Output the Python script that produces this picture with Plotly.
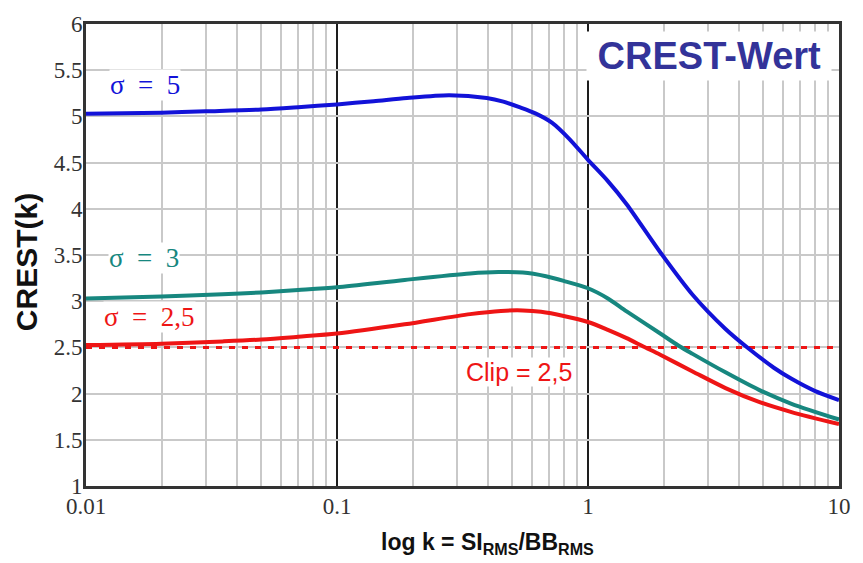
import plotly.graph_objects as go

# Crest factor curves CREST(k) for three sigma values
k_s5 = [0.01, 0.02, 0.03, 0.05, 0.07, 0.1, 0.14, 0.19, 0.28, 0.395, 0.46, 0.533,
        0.62, 0.72, 0.84, 1.0, 1.2, 1.425, 1.94, 2.61, 3.53, 4.4, 5.5, 6.47, 8.0, 10.0]
crest_s5 = [5.03, 5.04, 5.055, 5.075, 5.10, 5.13, 5.165, 5.20, 5.23, 5.20, 5.16, 5.10,
            5.03, 4.93, 4.76, 4.53, 4.30, 4.05, 3.53, 3.07, 2.70, 2.48, 2.28, 2.16, 2.03, 1.93]

k_s3 = [0.01, 0.02, 0.035, 0.05, 0.07, 0.1, 0.186, 0.339, 0.44, 0.55, 0.68, 0.8, 1.0,
        1.2, 1.425, 1.94, 2.29, 2.61, 3.53, 4.8, 6.47, 10.0]
crest_s3 = [3.03, 3.05, 3.075, 3.095, 3.12, 3.15, 3.23, 3.30, 3.315, 3.31, 3.27, 3.22, 3.14,
            3.03, 2.89, 2.65, 2.52, 2.43, 2.23, 2.04, 1.89, 1.72]

k_s25 = [0.01, 0.02, 0.035, 0.05, 0.07, 0.1, 0.186, 0.339, 0.45, 0.55, 0.65, 0.8, 1.0,
         1.2, 1.425, 1.66, 1.94, 2.61, 3.53, 4.8, 6.47, 10.0]
crest_s25 = [2.525, 2.54, 2.565, 2.585, 2.615, 2.65, 2.75, 2.86, 2.895, 2.90, 2.885, 2.84, 2.775,
             2.69, 2.60, 2.51, 2.42, 2.24, 2.06, 1.91, 1.80, 1.67]

clip_level = 2.5
k_range = [0.01, 10.0]

x_tickvals = [0.01, 0.1, 1, 10]
x_ticktext = ["0.01", "0.1", "1", "10"]
y_tickvals = [1, 1.5, 2, 2.5, 3, 3.5, 4, 4.5, 5, 5.5, 6]
y_ticktext = ["1", "1.5", "2", "2.5", "3", "3.5", "4", "4.5", "5", "5.5", "6"]

BLUE = "#1212d8"
TEAL = "#17877f"
RED = "#ee1515"
SERIF = "Times New Roman, Liberation Serif, DejaVu Serif, Times, serif"
SANS = "Arial, Liberation Sans, sans-serif"
EN = "\u2002"

fig = go.Figure()

fig.add_trace(go.Scatter(x=k_range, y=[clip_level, clip_level], mode="lines",
                         line=dict(color=RED, width=3, dash="6px,7px"),
                         showlegend=False, hoverinfo="skip"))
for kx, cy, col in [(k_s25, crest_s25, RED), (k_s3, crest_s3, TEAL), (k_s5, crest_s5, BLUE)]:
    fig.add_trace(go.Scatter(x=kx, y=cy, mode="lines",
                             line=dict(color=col, width=4, shape="spline", smoothing=0.8),
                             showlegend=False))

fig.update_xaxes(type="log", range=[-2, 1], tickvals=x_tickvals, ticktext=x_ticktext,
                 showgrid=True, gridcolor="#1e1e1e", gridwidth=1.5,
                 minor=dict(dtick="D1", showgrid=True, gridcolor="#c9c9c9", gridwidth=1.5,
                            ticks=""),
                 showline=True, mirror=True, linecolor="#333333", linewidth=3,
                 ticks="", ticklabelstandoff=-3,
                 tickfont=dict(family=SERIF, size=23, color="#333333"), zeroline=False)
fig.update_yaxes(range=[1, 6], tickvals=y_tickvals, ticktext=y_ticktext,
                 showgrid=True, gridcolor="#c9c9c9", gridwidth=1.5,
                 showline=True, mirror=True, linecolor="#333333", linewidth=3,
                 ticks="", ticklabelstandoff=-4,
                 tickfont=dict(family=SERIF, size=23, color="#333333"), zeroline=False)

ann = [
    dict(x=-1.763, y=5.34, text=f"σ{EN}={EN}5", font=dict(family=SERIF, size=27, color=BLUE)),
    dict(x=-1.767, y=3.47, text=f"σ{EN}={EN}3", font=dict(family=SERIF, size=27, color=TEAL)),
    dict(x=-1.747, y=2.83, text=f"σ{EN}={EN}2,5", font=dict(family=SERIF, size=27, color=RED)),
    dict(x=-0.273, y=2.23, text="Clip = 2,5", font=dict(family=SANS, size=25, color=RED)),
]
for a in ann:
    fig.add_annotation(xref="x", yref="y", showarrow=False, bgcolor="white",
                       xanchor="center", yanchor="middle", borderpad=0, **a)

fig.add_annotation(xref="paper", yref="paper", x=0.828, y=0.93, showarrow=False,
                   text="<b>\u2009CREST-Wert\u2009</b>", bgcolor="white", borderpad=3,
                   font=dict(family=SANS, size=38, color="#333399"),
                   xanchor="center", yanchor="middle")
fig.add_annotation(xref="paper", yref="paper", x=-0.0787, y=0.484, showarrow=False,
                   text="<b>CREST(k)</b>", textangle=-90,
                   font=dict(family=SANS, size=30, color="#111111"),
                   xanchor="center", yanchor="middle")
fig.add_annotation(xref="paper", yref="paper", x=0.533, y=-0.125, showarrow=False,
                   text="<b>log k = SI<sub>RMS</sub>/BB<sub>RMS</sub></b>",
                   font=dict(family=SANS, size=23, color="#111111"),
                   xanchor="center", yanchor="middle")

fig.update_layout(width=863, height=563, margin=dict(l=86, r=15, t=13, b=77),
                  paper_bgcolor="white", plot_bgcolor="white")

fig.write_html("out.html")
